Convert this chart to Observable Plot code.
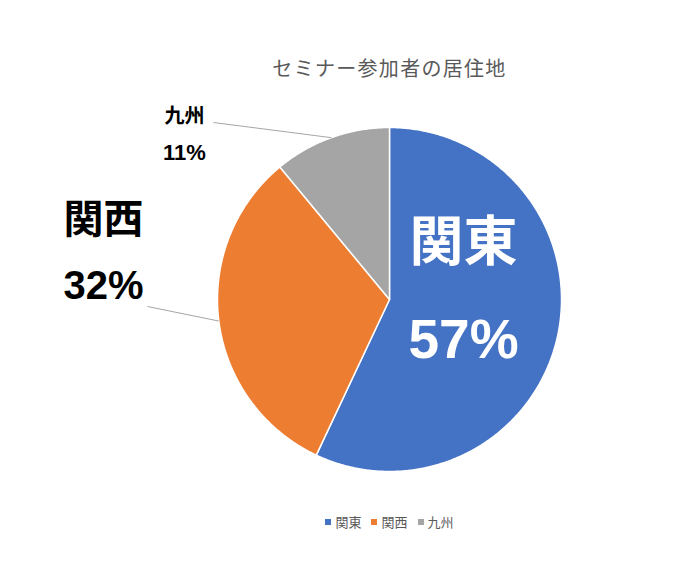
<!DOCTYPE html>
<html><head><meta charset="utf-8">
<script src="https://cdn.jsdelivr.net/npm/d3@7"></script>
<script src="https://cdn.jsdelivr.net/npm/@observablehq/plot@0.6"></script>
<style>
body{margin:0;background:#fff;font-family:"Noto Sans CJK JP","Noto Sans",sans-serif;}
#wrap{position:relative;width:681px;height:580px;overflow:hidden;}
#title{position:absolute;left:0;top:53px;width:681px;text-align:center;padding-left:98px;box-sizing:border-box;font-size:20px;color:#595959;line-height:30px;letter-spacing:1.3px;}
#chart{position:absolute;left:0;top:90px;}
#legend{position:absolute;left:0;top:510px;width:681px;text-align:center;padding-left:98px;box-sizing:border-box;font-size:13px;color:#595959;line-height:24px;}
#legend span.sw{display:inline-block;width:6px;height:6px;margin-right:4px;vertical-align:middle;position:relative;top:-1px;}
#legend span.it{margin:0 5px;}
</style></head>
<body><div id="wrap"><div id="title"></div><div id="chart"></div><div id="legend"></div></div>
<script>
const title = "セミナー参加者の居住地";
const categories = ["関東", "関西", "九州"];
const values = [57, 32, 11];
const colors = ["#4472C4", "#ED7D31", "#A5A5A5"];

document.getElementById("title").textContent = title;

const W = 681, H = 400, CX = 389, CY = 209, R = 172;
const total = d3.sum(values);
const slices = [];
let acc = 0;
categories.forEach((c, i) => {
  const a0 = acc / total * 2 * Math.PI;
  acc += values[i];
  const a1 = acc / total * 2 * Math.PI;
  slices.push({key: c, value: values[i], color: colors[i], a0, a1, mid: (a0 + a1) / 2});
});

const pts = [];
for (const s of slices) {
  pts.push({key: s.key, color: s.color, x: 0, y: 0});
  const n = Math.max(2, Math.ceil((s.a1 - s.a0) / (Math.PI / 360)));
  for (let k = 0; k <= n; k++) {
    const a = s.a0 + (s.a1 - s.a0) * k / n;
    pts.push({key: s.key, color: s.color, x: R * Math.sin(a), y: R * Math.cos(a)});
  }
  pts.push({key: s.key, color: s.color, x: 0, y: 0});
}

// label layout (pixel offsets from pie center, y up)
const labelLayout = {
  "関東": {nx: 74, ny: 56, py: -41, size: 54, psize: 55, fill: "white", lead: null},
  "関西": {nx: -286, ny: 79, py: 13, size: 40, psize: 40, fill: "black", lead: [-242, -7]},
  "九州": {nx: -205, ny: 183, py: 147, size: 20, psize: 22, fill: "black", lead: [-176, 177]}
};
const nameLabels = slices.map(s => ({text: s.key, x: labelLayout[s.key].nx, y: labelLayout[s.key].ny, size: labelLayout[s.key].size, fill: labelLayout[s.key].fill}));
const pctLabels = slices.map(s => ({text: s.value + "%", x: labelLayout[s.key].nx, y: labelLayout[s.key].py, size: labelLayout[s.key].psize, fill: labelLayout[s.key].fill}));
const leaders = slices.filter(s => labelLayout[s.key].lead).map(s => ({
  x1: labelLayout[s.key].lead[0], y1: labelLayout[s.key].lead[1],
  x2: R * Math.sin(s.mid), y2: R * Math.cos(s.mid)
}));

const plot = Plot.plot({
  width: W, height: H,
  margin: 0,
  x: {domain: [-CX, W - CX], range: [0, W], axis: null},
  y: {domain: [-(H - CY), CY], range: [H, 0], axis: null},
  marks: [
    Plot.line(pts, {x: "x", y: "y", z: "key", fill: "color", stroke: "white", strokeWidth: 1.5, strokeLinejoin: "round"}),
    Plot.link(leaders, {x1: "x1", y1: "y1", x2: "x2", y2: "y2", stroke: "#A6A6A6", strokeWidth: 1}),
    ...nameLabels.map(d => Plot.text([d], {x: "x", y: "y", text: "text", fill: d.fill, fontSize: d.size, fontWeight: "bold", fontFamily: "'Noto Sans CJK JP', sans-serif"})),
    ...pctLabels.map(d => Plot.text([d], {x: "x", y: "y", text: "text", fill: d.fill, fontSize: d.size, fontWeight: "bold", fontFamily: "Arial, 'Liberation Sans', sans-serif"}))
  ]
});
document.getElementById("chart").appendChild(plot);

const lg = document.getElementById("legend");
categories.forEach((c, i) => {
  const it = document.createElement("span");
  it.className = "it";
  it.innerHTML = `<span class="sw" style="background:${colors[i]}"></span>${c}`;
  lg.appendChild(it);
});
</script></body></html>
